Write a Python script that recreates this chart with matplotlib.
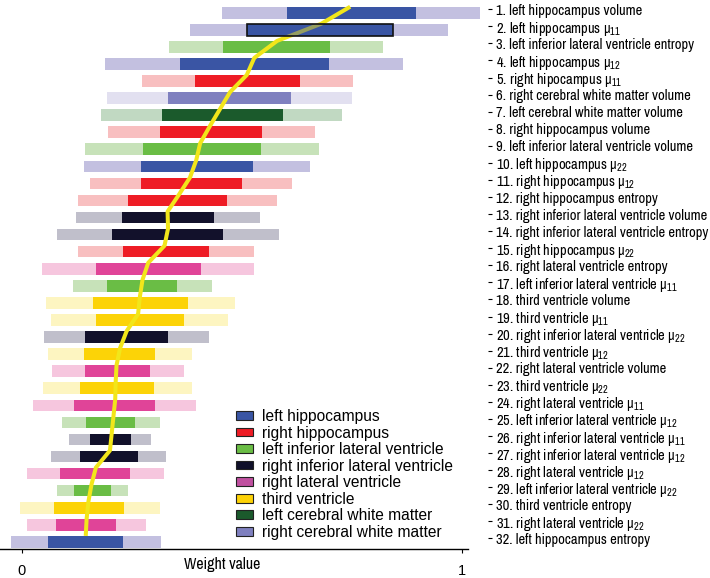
import matplotlib
matplotlib.use("Agg")
import matplotlib.pyplot as plt
from matplotlib.patches import Patch

NARROW = 'Archivo Narrow'
plt.rcParams['mathtext.fontset'] = 'custom'
plt.rcParams['mathtext.rm'] = NARROW
plt.rcParams['mathtext.it'] = NARROW

# ---------------- data ----------------
feature_labels = [
    "1. left hippocampus volume",
    r"2. left hippocampus μ$_{11}$",
    "3. left inferior lateral ventricle entropy",
    r"4. left hippocampus μ$_{12}$",
    r"5. right hipocampus μ$_{11}$",
    "6. right cerebral white matter volume",
    "7. left cerebral white matter volume",
    "8. right hippocampus volume",
    "9. left inferior lateral ventricle volume",
    r"10. left hippocampus μ$_{22}$",
    r"11. right hippocampus μ$_{12}$",
    "12. right hippocampus entropy",
    "13. right inferior lateral ventricle volume",
    "14. right inferior lateral ventricle entropy",
    r"15. right hippocampus μ$_{22}$",
    "16. right lateral ventricle entropy",
    r"17. left inferior lateral ventricle μ$_{11}$",
    "18. third ventricle volume",
    r"19. third ventricle μ$_{11}$",
    r"20. right inferior lateral ventricle μ$_{22}$",
    r"21. third ventricle μ$_{12}$",
    "22. right lateral ventricle volume",
    r"23. third ventricle μ$_{22}$",
    r"24. right lateral ventricle μ$_{11}$",
    r"25. left inferior lateral ventricle μ$_{12}$",
    r"26. right inferior lateral ventricle μ$_{11}$",
    r"27. right inferior lateral ventricle μ$_{12}$",
    r"28. right lateral ventricle μ$_{12}$",
    r"29. left inferior lateral ventricle μ$_{22}$",
    "30. third ventricle entropy",
    r"31. right lateral ventricle μ$_{22}$",
    "32. left hippocampus entropy",
]

feature_region = ["LH", "LH", "LILV", "LH", "RH", "RCWM", "LCWM", "RH", "LILV", "LH",
                  "RH", "RH", "RILV", "RILV", "RH", "RLV", "LILV", "TV", "TV", "RILV",
                  "TV", "RLV", "TV", "RLV", "LILV", "RILV", "RILV", "RLV", "LILV", "TV",
                  "RLV", "LH"]

outer_low = [0.456, 0.383, 0.336, 0.190, 0.274, 0.194, 0.181, 0.197, 0.145, 0.142,
             0.156, 0.128, 0.123, 0.080, 0.129, 0.046, 0.117, 0.055, 0.067, 0.052,
             0.061, 0.070, 0.049, 0.027, 0.092, 0.107, 0.067, 0.012, 0.080, -0.003,
             0.012, -0.025]
inner_low = [0.603, 0.513, 0.458, 0.360, 0.394, 0.332, 0.320, 0.314, 0.277, 0.271,
             0.271, 0.243, 0.228, 0.206, 0.231, 0.169, 0.194, 0.163, 0.169, 0.144,
             0.141, 0.144, 0.132, 0.119, 0.147, 0.156, 0.132, 0.088, 0.119, 0.073,
             0.079, 0.061]
inner_high = [0.897, 0.845, 0.701, 0.699, 0.634, 0.613, 0.594, 0.547, 0.544, 0.526,
              0.502, 0.467, 0.437, 0.458, 0.427, 0.409, 0.353, 0.378, 0.369, 0.332,
              0.304, 0.292, 0.301, 0.304, 0.258, 0.249, 0.264, 0.246, 0.203, 0.234,
              0.215, 0.231]
outer_high = [1.042, 0.970, 0.821, 0.868, 0.753, 0.750, 0.729, 0.668, 0.676, 0.655,
              0.615, 0.581, 0.541, 0.585, 0.529, 0.529, 0.434, 0.486, 0.470, 0.425,
              0.387, 0.369, 0.387, 0.397, 0.314, 0.295, 0.329, 0.323, 0.243, 0.314,
              0.283, 0.317]
mean_weight = [0.747, 0.681, 0.581, 0.529, 0.512, 0.474, 0.451, 0.428, 0.406, 0.397,
               0.383, 0.358, 0.332, 0.333, 0.325, 0.288, 0.275, 0.269, 0.265, 0.239,
               0.224, 0.216, 0.214, 0.213, 0.209, 0.205, 0.201, 0.169, 0.159, 0.152,
               0.148, 0.146]

region_keys = ["LH", "RH", "LILV", "RILV", "RLV", "TV", "LCWM", "RCWM"]
region_names = ["left hippocampus", "right hippocampus", "left inferior lateral ventricle",
                "right inferior lateral ventricle", "right lateral ventricle",
                "third ventricle", "left cerebral white matter", "right cerebral white matter"]
region_dark = {"LH": "#3a55a4", "RH": "#ee1c25", "LILV": "#6abd45", "RILV": "#12112b",
               "RLV": "#e04498", "TV": "#fcd307", "LCWM": "#1b5a2c", "RCWM": "#7f80bf"}
region_light = {"LH": "#c3c0e0", "RH": "#f8bfc0", "LILV": "#c7e2b9", "RILV": "#c0bfcb",
                "RLV": "#f6c6de", "TV": "#fdf5c1", "LCWM": "#c1d9c2", "RCWM": "#e2e0f0"}
legend_colors = {"LH": "#3a55a4", "RH": "#ee1c25", "LILV": "#6abd45", "RILV": "#10102a",
                 "RLV": "#c050a0", "TV": "#fdd207", "LCWM": "#1b5a2c", "RCWM": "#7f80bf"}

x_ticks = [0, 1]
x_label = "Weight value"

# ---------------- figure ----------------
W, H = 710, 578
fig = plt.figure(figsize=(W / 100, H / 100), dpi=100)
row_px = 17.07
first_px = 12.7
axis_px = 549.0
ax_left_px, ax_right_px = 0.0, 488.0
ax = fig.add_axes([ax_left_px / W, (H - axis_px) / H, (ax_right_px - ax_left_px) / W, axis_px / H])

x0_px, scale = 21.5, 440.0
ax.set_xlim((ax_left_px - x0_px) / scale, (ax_right_px - x0_px) / scale)
ytop = 1 - first_px / row_px
ybot = 1 + (axis_px - first_px) / row_px
ax.set_ylim(ybot, ytop)

n = len(feature_labels)
ypos = list(range(1, n + 1))
bh = 0.68
for i in range(n):
    r = feature_region[i]
    ax.barh(ypos[i], outer_high[i] - outer_low[i], left=outer_low[i], height=bh,
            color=region_light[r], edgecolor='none', clip_on=False, zorder=2)
    ax.barh(ypos[i], inner_high[i] - inner_low[i], left=inner_low[i], height=bh,
            color=region_dark[r], edgecolor='none', clip_on=False, zorder=3)

line_y = [y - 0.35 for y in ypos]
ax.plot(mean_weight, line_y, color="#f2e61a", lw=2.9, zorder=4, solid_capstyle='butt')

# highlighted (outlined, semi-transparent) bar of feature 2
ax.barh(ypos[1], inner_high[1] - inner_low[1], left=inner_low[1], height=bh,
        color=region_dark["LH"], alpha=0.5, edgecolor='none', zorder=5)
ax.barh(ypos[1], inner_high[1] - inner_low[1], left=inner_low[1], height=bh,
        fill=False, edgecolor='#111111', lw=1.2, zorder=6)

for s in ["top", "left", "right"]:
    ax.spines[s].set_visible(False)
ax.spines["bottom"].set_bounds((0 - x0_px) / scale, (468 - x0_px) / scale)
ax.spines["bottom"].set_linewidth(1.0)
ax.set_xticks(x_ticks)
ax.set_xticklabels([str(t) for t in x_ticks], family="Liberation Sans", fontsize=10.5)
ax.tick_params(axis='x', direction='out', length=3, pad=8)

ax.yaxis.tick_right()
ax.set_yticks([y - 0.2 for y in ypos])
ax.set_yticklabels(feature_labels, family=NARROW, fontsize=10.45)
ax.tick_params(axis='y', direction='out', length=3, width=0.8, pad=2.5)

fig.text(222 / W, 1 - 564 / H, x_label, family=NARROW, fontsize=11.5,
         ha='center', va='center')

handles = [Patch(facecolor=legend_colors[k], edgecolor='#222222', lw=0.8) for k in region_keys]
leg = fig.legend(handles, region_names, loc='upper left',
                 bbox_to_anchor=(236 / W, 1 - 409 / H), bbox_transform=fig.transFigure,
                 frameon=False, borderpad=0, borderaxespad=0,
                 handlelength=1.1, handleheight=0.48, handletextpad=0.55,
                 labelspacing=0.1, prop={'family': 'Liberation Sans', 'size': 11.2})

fig.savefig("out.png", dpi=100)
